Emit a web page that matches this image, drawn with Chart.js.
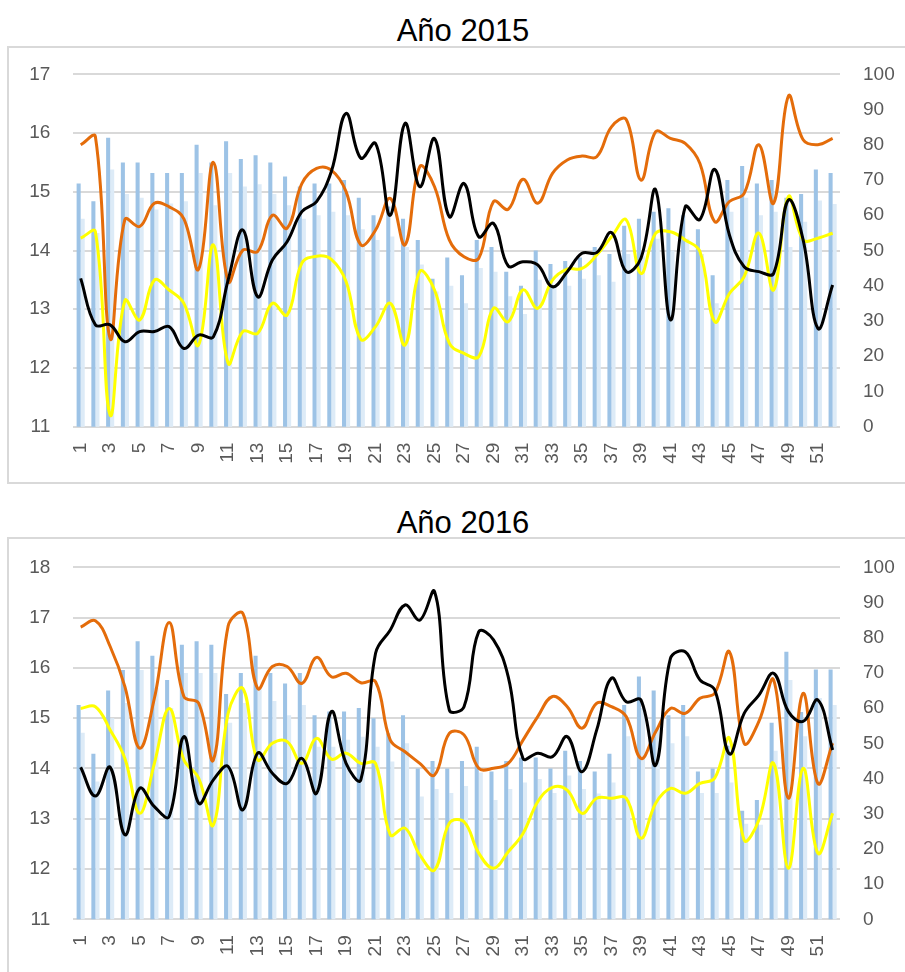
<!DOCTYPE html>
<html lang="es">
<head>
<meta charset="utf-8">
<title>Año 2015 / Año 2016</title>
<script src="https://cdn.jsdelivr.net/npm/chart.js@4.4.1/dist/chart.umd.min.js"></script>
<style>
  body {
    margin: 0;
    width: 905px;
    height: 972px;
    overflow: hidden;
    position: relative;
    background: #fff;
    font-family: "Liberation Sans", Arial, sans-serif;
  }
  .title {
    position: absolute;
    left: 8px;
    width: 910px;
    text-align: center;
    font-size: 31px;
    line-height: 31px;
    color: #000;
  }
  .frame {
    position: absolute;
    left: 7px;
    width: 940px;
    border: 2px solid #d9d9d9;
    box-sizing: border-box;
  }
  canvas { position: absolute; left: 0; }
</style>
</head>
<body>

<div class="title" id="t1" style="top:15px">Año 2015</div>
<div class="frame" style="top:46px;height:438px"></div>
<canvas id="c2015" width="905" height="436" style="top:47px"></canvas>

<div class="title" id="t2" style="top:507px">Año 2016</div>
<div class="frame" style="top:537px;height:460px"></div>
<canvas id="c2016" width="905" height="433" style="top:539px"></canvas>

<script>
// ---- Data ----------------------------------------------------------------

const WEEKS = [
  "1", "2", "3", "4", "5", "6", "7", "8", "9", "10", "11", "12", "13",
  "14", "15", "16", "17", "18", "19", "20", "21", "22", "23", "24", "25", "26",
  "27", "28", "29", "30", "31", "32", "33", "34", "35", "36", "37", "38", "39",
  "40", "41", "42", "43", "44", "45", "46", "47", "48", "49", "50", "51", "52",
];

// 2015 - bars (left axis)
const BAR_A_2015 = [
  15.14, 14.84, 15.92, 15.5, 15.5, 15.32, 15.32, 15.32, 15.8, 15.5, 15.86, 15.56, 15.62,
  15.5, 15.26, 15.09, 15.14, 15.14, 15.2, 14.9, 14.6, 14.75, 14.54, 14.18, 13.52, 13.88,
  13.58, 14.18, 14.06, 13.64, 13.4, 14.0, 13.77, 13.82, 13.88, 14.06, 13.94, 14.42, 14.54,
  14.66, 14.72, 14.6, 14.36, 13.58, 15.2, 15.44, 15.14, 15.2, 14.9, 14.96, 15.38, 15.32,
];
const BAR_B_2015 = [
  14.54, 14.3, 15.38, 14.96, 14.9, 14.7, 14.8, 14.84, 15.32, 14.77, 15.32, 15.09, 15.13,
  14.96, 14.77, 14.54, 14.6, 14.66, 14.6, 14.36, 14.18, 14.24, 14.06, 13.76, 13.3, 13.4,
  13.1, 13.7, 13.64, 13.22, 12.92, 13.5, 13.4, 13.4, 13.52, 13.58, 13.47, 13.94, 13.9,
  14.2, 14.0, 14.2, 13.94, 13.1, 14.66, 14.9, 14.6, 14.66, 14.06, 14.49, 14.85, 14.79,
];
// 2015 - lines (right axis)
const ORANGE_2015 = [
  80, 82.3, 25, 58.8, 56.8, 63.4, 62.4, 59, 44.7, 75, 41.2, 50.1, 49.7,
  60, 56.3, 69, 73.3, 72.8, 66.7, 51.6, 55.8, 64.8, 51.6, 73.8, 68.1, 53,
  48.2, 47.8, 63.9, 61.7, 70.2, 63.4, 71.9, 75.7, 76.8, 76.6, 85.1, 87.2, 70,
  83.7, 81.8, 80.4, 74.7, 58.2, 63.9, 66.2, 80, 63.4, 93.8, 81.4, 80, 81.8,
];
const YELLOW_2015 = [
  53.5, 55.3, 3.3, 35.8, 30.3, 41.6, 38.8, 35, 23.2, 51.6, 18, 27, 26.5,
  35, 31.7, 46.4, 48.4, 47.5, 41.2, 24.8, 28.4, 35, 23.2, 44, 38.8, 23.7,
  20.8, 19.9, 33.6, 29.8, 38.8, 33.6, 41.6, 44.7, 44.9, 48.7, 53.9, 58.7, 43.5,
  54.9, 55.3, 53, 49.7, 29.8, 37.8, 42.6, 54.9, 38.8, 65.3, 53, 53.5, 54.9,
];
const BLACK_2015 = [
  42.1, 28.9, 28.9, 24.1, 27, 27, 28.4, 22.2, 26, 25.5, 41.6, 55.8, 36.9,
  47.3, 52.5, 61, 63.9, 72.4, 88.9, 76.2, 80.4, 60, 86.1, 68.1, 81.8, 59.6,
  69, 53.9, 57.7, 45.6, 46.8, 45.9, 39.7, 44, 49.2, 49.4, 55.1, 44, 47.8,
  67.2, 30.3, 62.4, 58.8, 73, 54.4, 45.4, 44, 43.5, 64.3, 53, 27.9, 40.2,
];

// 2016 - bars (left axis)
const BAR_A_2016 = [
  15.26, 14.29, 15.55, 15.96, 16.53, 16.24, 15.76, 16.46, 16.53, 16.46, 15.48, 15.9, 16.24,
  15.9, 15.69, 15.9, 15.06, 15.13, 15.13, 15.2, 15.0, 14.7, 15.06, 14.0, 14.15, 14.0,
  14.15, 14.43, 13.94, 14.15, 14.22, 14.22, 14.0, 14.35, 14.15, 13.94, 14.29, 15.26, 15.83,
  15.55, 15.06, 15.26, 13.94, 14.0, 14.45, 13.16, 13.37, 14.91, 16.32, 15.12, 15.97, 15.97,
];
const BAR_B_2016 = [
  14.71, 13.74, 15.0, 15.3, 15.96, 15.6, 15.2, 15.9, 15.9, 15.9, 14.91, 15.3, 15.6,
  15.34, 15.06, 15.26, 14.43, 14.43, 14.57, 14.63, 14.43, 14.14, 14.5, 13.44, 13.59, 13.51,
  13.65, 13.92, 13.37, 13.59, 13.72, 13.79, 13.51, 13.86, 13.59, 13.5, 13.72, 14.64, 15.2,
  14.8, 14.5, 14.64, 13.51, 13.51, 13.72, 12.9, 12.88, 14.35, 15.76, 14.64, 15.4, 15.26,
];
// 2016 - lines (right axis)
const ORANGE_2016 = [
  83, 84.8, 77.5, 66.1, 48.6, 62.8, 84.3, 63.3, 61.4, 45.3, 83.3, 86.9, 65.6,
  71.8, 71.8, 67, 74.4, 68.9, 69.9, 67.2, 67.5, 50.9, 47.6, 44.3, 41, 52.8,
  52.4, 42.9, 42.9, 44.3, 50.9, 57.6, 63.3, 60.4, 54.3, 61.4, 60.4, 57.6, 45.7,
  53.3, 59.9, 58.5, 62.8, 64.2, 76, 50, 56.2, 68, 34.4, 64.2, 38.6, 50,
];
const YELLOW_2016 = [
  59.9, 60.4, 53.8, 45.7, 30.1, 44.3, 59.9, 45.3, 40.1, 26.8, 58.5, 65.6, 45.3,
  50, 50.5, 44.3, 51.4, 45.5, 47.2, 44.3, 44.3, 24, 25.9, 18.3, 14, 27.3,
  27.7, 18.8, 14.5, 19.2, 24.4, 33.4, 37.5, 36.7, 30.1, 34.4, 34.4, 34.4, 23,
  33, 37.2, 35.8, 38.6, 40.1, 51.4, 22.5, 28.2, 44.3, 14.5, 42.9, 18.8, 30.1,
];
const BLACK_2016 = [
  43.2, 35, 43.2, 24, 37.2, 32, 29.2, 51.9, 33, 39.6, 43.4, 31.1, 47.2,
  41.5, 38.6, 45.7, 35.8, 59, 44.3, 39.6, 75.6, 82.2, 89.3, 85, 93.1, 59.5,
  60.4, 81.7, 79.4, 68.9, 45.7, 47.2, 46.2, 51.9, 41.9, 53.8, 68.5, 61.8, 62.3,
  43.8, 74.1, 76, 68, 65.2, 47, 58.5, 63.7, 69.9, 59, 56.2, 62.3, 48.1,
];

// ---- Styling -------------------------------------------------------------

const BAR_A_COLOR = "#9dc3e6";
const BAR_B_COLOR = "#ddebf7";
const ORANGE = "#e46c0a";
const YELLOW = "#ffff00";
const BLACK = "#000000";
const GRID = "#d9d9d9";
const TICK = "#595959";
const TICK_FONT = { family: "'Liberation Sans', Arial, sans-serif", size: 19 };

function lineSet(data, color, order) {
  return {
    type: "line",
    data,
    yAxisID: "y1",
    borderColor: color,
    backgroundColor: color,
    borderWidth: 3,
    pointRadius: 0,
    tension: 0.4,
    fill: false,
    order,
  };
}

function barSet(data, color, order) {
  return {
    type: "bar",
    data,
    yAxisID: "y",
    backgroundColor: color,
    borderWidth: 0,
    categoryPercentage: 0.55,
    barPercentage: 1.0,
    order,
  };
}

// plot area is pinned by fixed axis widths/heights; the label gap comes
// from invisible tick marks so the y scales don't push the top down
function buildChart(id, s, leftMax, padTop, xHeight) {
  return new Chart(document.getElementById(id), {
    type: "bar",
    data: {
      labels: WEEKS,
      datasets: [
        barSet(s.barA, BAR_A_COLOR, 10),
        barSet(s.barB, BAR_B_COLOR, 11),
        lineSet(s.orange, ORANGE, 3),
        lineSet(s.yellow, YELLOW, 2),
        lineSet(s.black, BLACK, 1),
      ],
    },
    options: {
      responsive: false,
      animation: false,
      devicePixelRatio: 1,
      layout: { padding: { top: padTop, left: 0, right: 0, bottom: 0 } },
      plugins: { legend: { display: false }, tooltip: { enabled: false }, title: { display: false } },
      scales: {
        x: {
          grid: { display: false },
          border: { display: false },
          ticks: {
            color: TICK,
            font: TICK_FONT,
            autoSkip: false,
            minRotation: 90,
            maxRotation: 90,
            padding: 8,
            callback: (v, i) => (i % 2 === 0 ? WEEKS[i] : ""),
          },
          afterFit: (sc) => { sc.height = xHeight; },
        },
        y: {
          position: "left",
          min: 11,
          max: leftMax,
          grid: { color: GRID, lineWidth: 2, drawTicks: true, tickLength: 19, tickColor: "rgba(0,0,0,0)" },
          border: { display: false },
          ticks: { stepSize: 1, color: TICK, font: TICK_FONT, padding: 4 },
          afterFit: (sc) => { sc.width = 73.3; },
        },
        y1: {
          position: "right",
          min: 0,
          max: 100,
          grid: { drawOnChartArea: false, drawTicks: true, tickLength: 19, tickColor: "rgba(0,0,0,0)" },
          border: { display: false },
          ticks: { stepSize: 10, color: TICK, font: TICK_FONT, padding: 4 },
          afterFit: (sc) => { sc.width = 65; },
        },
      },
    },
  });
}

buildChart("c2015", {
  barA: BAR_A_2015, barB: BAR_B_2015,
  orange: ORANGE_2015, yellow: YELLOW_2015, black: BLACK_2015,
}, 17, 27.3, 56.3);

buildChart("c2016", {
  barA: BAR_A_2016, barB: BAR_B_2016,
  orange: ORANGE_2016, yellow: YELLOW_2016, black: BLACK_2016,
}, 18, 28.3, 52.7);
</script>
</body>
</html>
